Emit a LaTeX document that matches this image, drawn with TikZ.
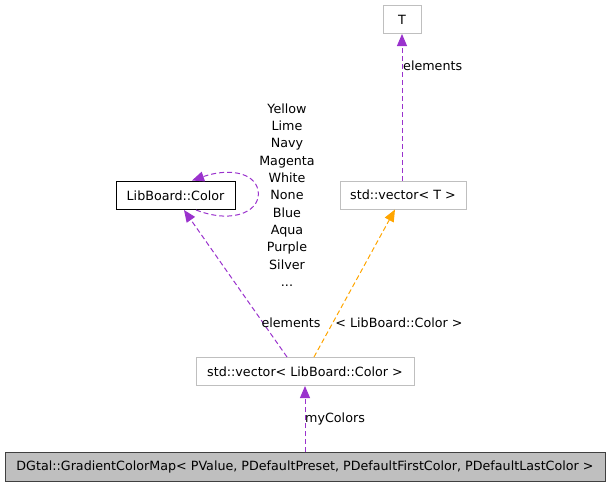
\documentclass[tikz,border=0pt]{standalone}
\usepackage{fontspec}
\setmainfont{DejaVu Sans}
\usetikzlibrary{arrows.meta}
\definecolor{edgepurple}{HTML}{9A32CD}
\definecolor{edgeorange}{HTML}{FFA500}
\definecolor{greyborder}{HTML}{BFBFBF}
\definecolor{mainfill}{HTML}{BFBFBF}
\definecolor{mainborder}{HTML}{404040}
\begin{document}
\begin{tikzpicture}[x=1pt,y=-1pt,
  every node/.style={font=\fontsize{12.7}{17.3}\selectfont, inner sep=0pt},
  cls/.style={draw=greyborder, line width=1pt, fill=white, minimum height=28pt},
  colcls/.style={draw=black, line width=1pt, fill=white, minimum height=28pt},
  maincls/.style={draw=mainborder, line width=1pt, fill=mainfill, minimum height=29pt},
  dep/.style={edgepurple, line width=1pt, dash pattern=on 5pt off 3pt,
    -{Triangle[length=12pt,width=10pt,fill=edgepurple]}},
  tmpl/.style={edgeorange, line width=1pt, dash pattern=on 5pt off 3pt,
    -{Triangle[length=12pt,width=10pt,fill=edgeorange]}},
  lbl/.style={}
]
\useasboundingbox (0,0) rectangle (611,488);
\node[cls, minimum width=38pt] (T) at (402,19.5) {T};
\node[cls, minimum width=126pt] (vecT) at (403,195) {std::vector< T >};
\node[colcls, minimum width=119pt] (color) at (175.5,195.5) {LibBoard::Color};
\node[cls, minimum width=218pt] (vecC) at (305,371.5) {std::vector< LibBoard::Color >};
\node[maincls, minimum width=600pt] (main) at (305,467) {DGtal::GradientColorMap< PValue, PDefaultPreset, PDefaultFirstColor, PDefaultLastColor >};

\draw[dep] (vecT.north -| T) -- (T.south);
\node[lbl, anchor=west] (l1) at (403,66) {elements};

\draw[dep] ([xshift=-18pt]vecC.north) -- (184,210);
\node[lbl] (l2) at (291,323) {elements};

\draw[tmpl] ([xshift=9pt]vecC.north) -- (395,209.5);
\node[lbl] (l3) at (399,323) {< LibBoard::Color >};

\draw[dep] (color.south -| 196,0) .. controls (235,225) and (262,210) .. (258,190)
  .. controls (254,172) and (228,168) .. (192,180.5);
\node[lbl, align=center] (l4) at (287,195) {Yellow\\Lime\\Navy\\Magenta\\White\\None\\Blue\\Aqua\\Purple\\Silver\\...};

\draw[dep] (main.north -| vecC) -- (vecC.south);
\node[lbl, anchor=west] (l5) at (305,419) {myColors};
\end{tikzpicture}
\end{document}
